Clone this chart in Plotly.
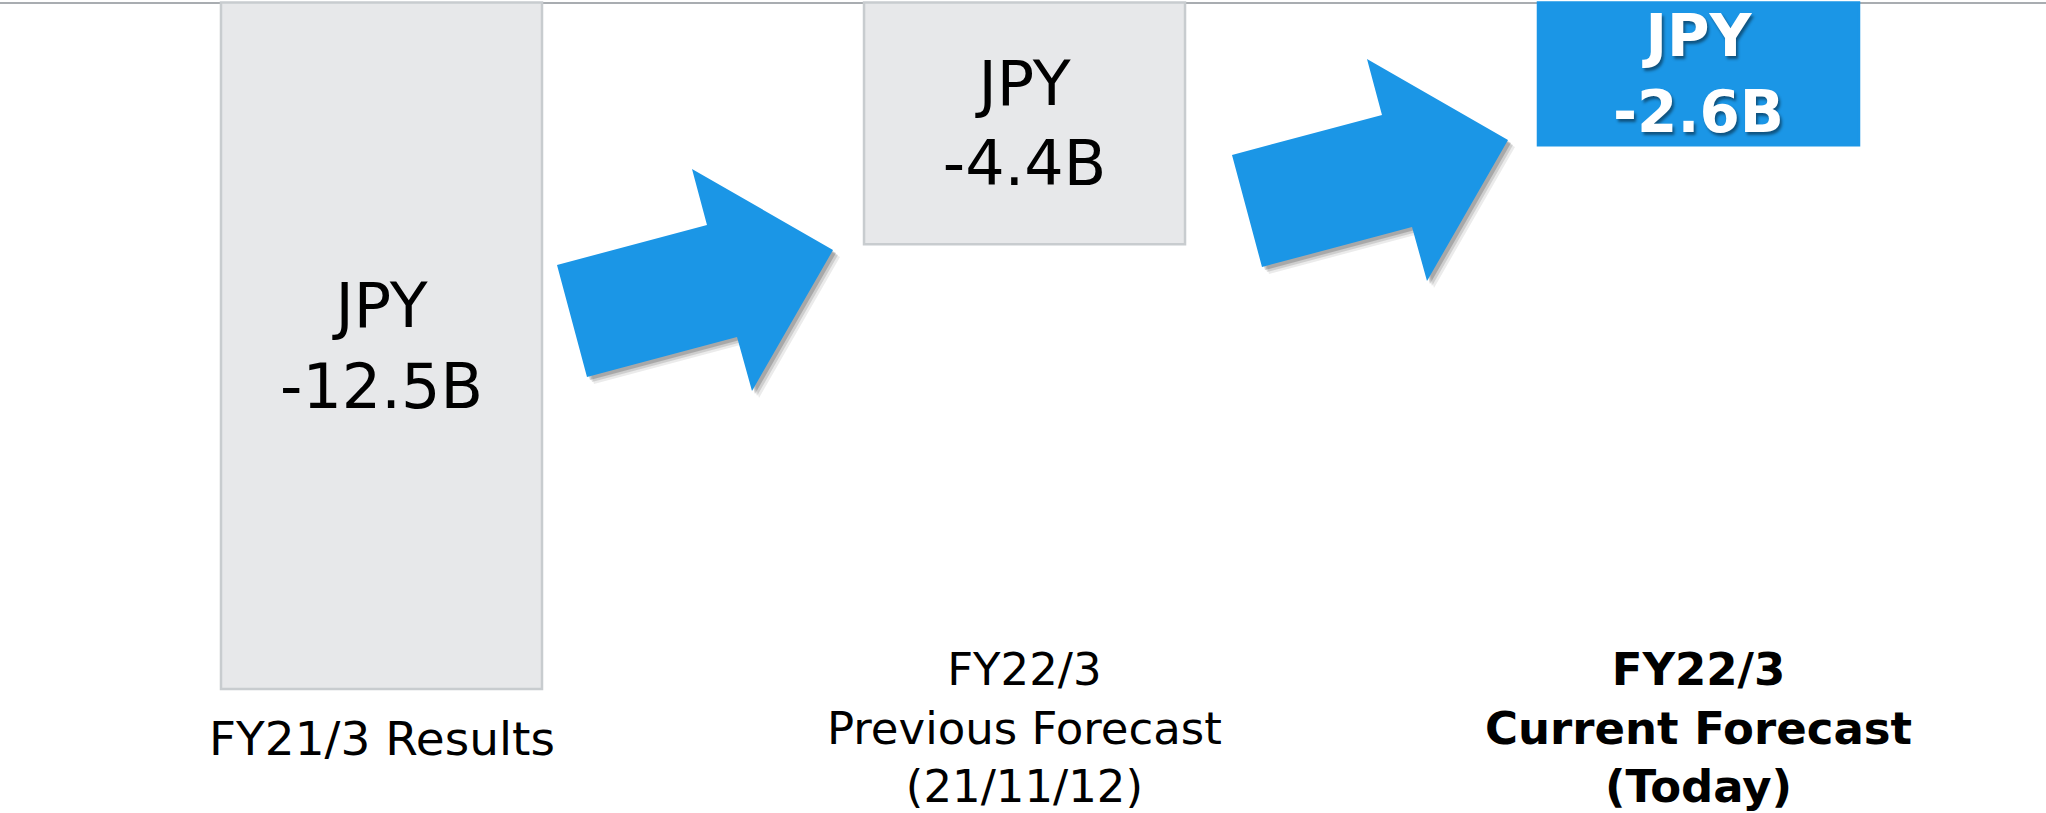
import plotly.graph_objects as go

# ---- data ----
categories = ["FY21/3 Results", "FY22/3 Previous Forecast", "FY22/3 Current Forecast"]
values = [-12.5, -4.4, -2.6]
cat_labels = [
    "FY21/3 Results",
    "FY22/3<br>Previous Forecast<br>(21/11/12)",
    "<b>FY22/3<br>Current Forecast<br>(Today)</b>",
]

W, H = 2046, 813
BLUE = "#1B96E6"
GRAY_FILL = "#E7E8EA"
GRAY_LINE = "#C8CCCF"
FONT = "DejaVu Sans"

bar_texts = []
for i, v in enumerate(values):
    t = f"JPY<br>{v:.1f}B"
    if i == len(values) - 1:
        t = f"<b>{t}</b>"
    bar_texts.append(t)

bw = 0.4875
shift = [0.0, -0.0235, 0.0]
offsets = [-bw / 2 + s for s in shift]

fig = go.Figure()
fig.add_trace(go.Bar(
    x=categories,
    y=values,
    width=[bw] * 3,
    offset=offsets,
    marker=dict(
        color=[GRAY_FILL, GRAY_FILL, BLUE],
        line=dict(color=[GRAY_LINE, GRAY_LINE, BLUE], width=2.5),
    ),
    text=bar_texts,
    textposition="inside",
    insidetextanchor="middle",
    textangle=0,
    constraintext="none",
    textfont=dict(
        family=FONT,
        size=[62, 62, 58],
        color=["#000000", "#000000", "#FFFFFF"],
        shadow=["none", "none", "2px 3px 3px rgba(0,0,0,0.45)"],
    ),
    hoverinfo="skip",
    showlegend=False,
))

# ---- decorative block arrows (pixel outline -> paper coords) ----
arrow_px = [(557, 265), (707, 225), (692, 169), (833, 250), (752, 391), (737, 337), (587, 377)]
arrow_shift2 = (675, -110)


def path_from(pts, dx=0, dy=0):
    segs = []
    for k, (px, py) in enumerate(pts):
        xp = (px + dx) / W
        yp = 1 - (py + dy) / H
        segs.append(("M" if k == 0 else "L") + f"{xp:.5f},{yp:.5f}")
    return " ".join(segs) + " Z"


shapes = []
for sx, sy in [(0, 0), arrow_shift2]:
    for (ox, oy, col) in [(7, 7, "rgba(0,0,0,0.08)"), (5, 5, "rgba(0,0,0,0.12)"), (3, 3, "rgba(0,0,0,0.18)")]:
        shapes.append(dict(type="path", xref="paper", yref="paper",
                           path=path_from(arrow_px, sx + ox, sy + oy),
                           fillcolor=col, line=dict(width=0), layer="above"))
    shapes.append(dict(type="path", xref="paper", yref="paper",
                       path=path_from(arrow_px, sx, sy),
                       fillcolor=BLUE, line=dict(width=0), layer="above"))

# ---- category labels ----
label_y_px = [738, 728, 728]
label_sizes = [47, 45, 45]
annotations = []
for i, lab in enumerate(cat_labels):
    annotations.append(dict(
        x=i + shift[i], xref="x",
        y=1 - label_y_px[i] / H, yref="paper",
        text=lab, showarrow=False,
        xanchor="center", yanchor="middle", align="center",
        font=dict(family=FONT, size=label_sizes[i], color="#000000"),
    ))

# axis ranges from pixel layout
px_per_cat = 658.5
c0 = 381.5
x_lo = -c0 / px_per_cat
x_hi = (W - c0) / px_per_cat
zero_px = 2.5
px_per_unit = (689 - zero_px) / 12.5
y_hi = zero_px / px_per_unit
y_lo = -(H - zero_px) / px_per_unit

fig.update_layout(
    width=W, height=H, autosize=False,
    margin=dict(l=0, r=0, t=0, b=0, pad=0),
    paper_bgcolor="white", plot_bgcolor="white",
    shapes=shapes, annotations=annotations,
    xaxis=dict(range=[x_lo, x_hi], showticklabels=False, showgrid=False,
               zeroline=False, showline=False, ticks=""),
    yaxis=dict(range=[y_lo, y_hi], showticklabels=False, showgrid=False,
               zeroline=True, zerolinecolor="#A9ADB1", zerolinewidth=2,
               showline=False, ticks=""),
    font=dict(family=FONT),
)

fig.write_html("out.html", config={"displayModeBar": False})
